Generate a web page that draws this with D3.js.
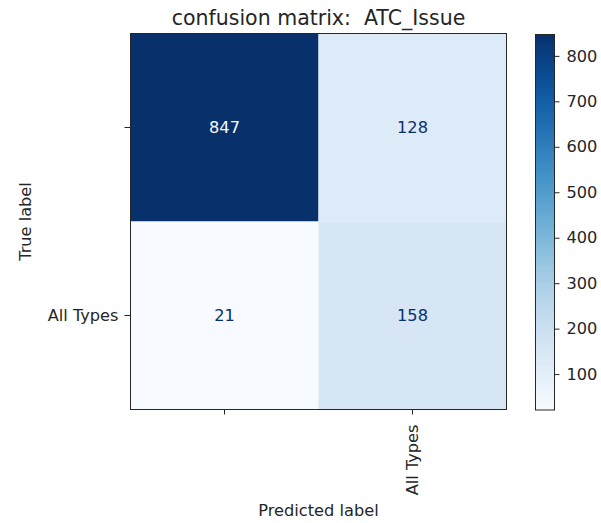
<!DOCTYPE html>
<html>
<head>
<meta charset="utf-8">
<script src="https://cdn.jsdelivr.net/npm/d3@7"></script>
<style>
  body { margin: 0; background: #fff; }
  svg text { font-family: "DejaVu Sans", sans-serif; fill: #262626; white-space: pre; }
</style>
</head>
<body>
<svg id="chart"></svg>
<script>
// confusion matrix values, rows = true label, cols = predicted label
var labels = ["", "All Types"];
var matrix = [
  [847, 128],
  [21, 158]
];
var cbarTicks = [100, 200, 300, 400, 500, 600, 700, 800];
var title = "confusion matrix:  ATC_Issue";

var width = 601, height = 523;
var svg = d3.select("#chart").attr("width", width).attr("height", height);

var mLeft = 130.5, mTop = 33.5, size = 376;
var fs = 16.2;

var flat = [];
matrix.forEach(function (row, i) {
  row.forEach(function (v, j) { flat.push({ r: i, c: j, v: v }); });
});
var vmin = d3.min(flat, function (d) { return d.v; });
var vmax = d3.max(flat, function (d) { return d.v; });
var color = d3.scaleSequential(d3.interpolateBlues).domain([vmin, vmax]);

var x = d3.scaleBand().domain(d3.range(labels.length)).range([mLeft, mLeft + size]);
var y = d3.scaleBand().domain(d3.range(labels.length)).range([mTop, mTop + size]);

var g = svg.append("g");
g.selectAll("rect.cell").data(flat).enter().append("rect")
  .attr("class", "cell")
  .attr("x", function (d) { return x(d.c); })
  .attr("y", function (d) { return y(d.r); })
  .attr("width", x.bandwidth())
  .attr("height", y.bandwidth())
  .attr("fill", function (d) { return color(d.v); });

var thresh = (vmin + vmax) / 2;
g.selectAll("text.val").data(flat).enter().append("text")
  .attr("class", "val")
  .attr("x", function (d) { return x(d.c) + x.bandwidth() / 2; })
  .attr("y", function (d) { return y(d.r) + y.bandwidth() / 2; })
  .attr("dy", "0.36em")
  .attr("text-anchor", "middle")
  .style("font-size", fs + "px")
  .style("fill", function (d) { return d.v > thresh ? color(vmin) : color(vmax); })
  .text(function (d) { return d.v; });

// frame
g.append("rect")
  .attr("x", mLeft).attr("y", mTop).attr("width", size).attr("height", size)
  .attr("fill", "none").attr("stroke", "#262626").attr("stroke-width", 1);

// axes
var xAxis = d3.axisBottom(x).tickSize(5).tickPadding(6)
  .tickFormat(function (i) { return labels[i]; });
var yAxis = d3.axisLeft(y).tickSize(6).tickPadding(6)
  .tickFormat(function (i) { return labels[i]; });

var gx = svg.append("g").attr("transform", "translate(0," + (mTop + size) + ")").call(xAxis);
gx.select(".domain").remove();
gx.selectAll("line").attr("stroke", "#262626");
gx.selectAll("text")
  .style("font-size", fs + "px").style("font-family", "DejaVu Sans")
  .attr("fill", "#262626")
  .attr("text-anchor", "end")
  .attr("transform", "rotate(-90)")
  .attr("x", -15).attr("y", 0).attr("dy", "0.35em");

var gy = svg.append("g").attr("transform", "translate(" + mLeft + ",0)").call(yAxis);
gy.select(".domain").remove();
gy.selectAll("line").attr("stroke", "#262626");
gy.selectAll("text")
  .style("font-size", fs + "px").style("font-family", "DejaVu Sans")
  .attr("fill", "#262626");

svg.append("text")
  .attr("x", mLeft + size / 2).attr("y", 516)
  .attr("text-anchor", "middle")
  .style("font-size", fs + "px")
  .text("Predicted label");

svg.append("text")
  .attr("transform", "translate(31," + (mTop + size / 2) + ") rotate(-90)")
  .attr("text-anchor", "middle")
  .style("font-size", fs + "px")
  .text("True label");

svg.append("text")
  .attr("x", mLeft + size / 2).attr("y", 25)
  .attr("text-anchor", "middle")
  .style("font-size", "20.5px")
  .text(title);

// colorbar
var cbX = 535.5, cbW = 19, cbTop = 34.5, cbH = 375.5;
var defs = svg.append("defs");
var grad = defs.append("linearGradient").attr("id", "cbgrad")
  .attr("x1", 0).attr("y1", 1).attr("x2", 0).attr("y2", 0);
d3.range(0, 1.0001, 0.05).forEach(function (t) {
  grad.append("stop").attr("offset", t).attr("stop-color", d3.interpolateBlues(t));
});
svg.append("rect")
  .attr("x", cbX).attr("y", cbTop).attr("width", cbW).attr("height", cbH)
  .attr("fill", "url(#cbgrad)").attr("stroke", "#262626").attr("stroke-width", 1);

var cy = d3.scaleLinear().domain([vmin, vmax]).range([cbTop + cbH, cbTop]);
var gc = svg.append("g").attr("transform", "translate(" + (cbX + cbW) + ",0)")
  .call(d3.axisRight(cy).tickValues(cbarTicks).tickSize(5).tickPadding(7));
gc.select(".domain").remove();
gc.selectAll("line").attr("stroke", "#262626");
gc.selectAll("text")
  .style("font-size", fs + "px").style("font-family", "DejaVu Sans")
  .attr("fill", "#262626");
</script>
</body>
</html>
